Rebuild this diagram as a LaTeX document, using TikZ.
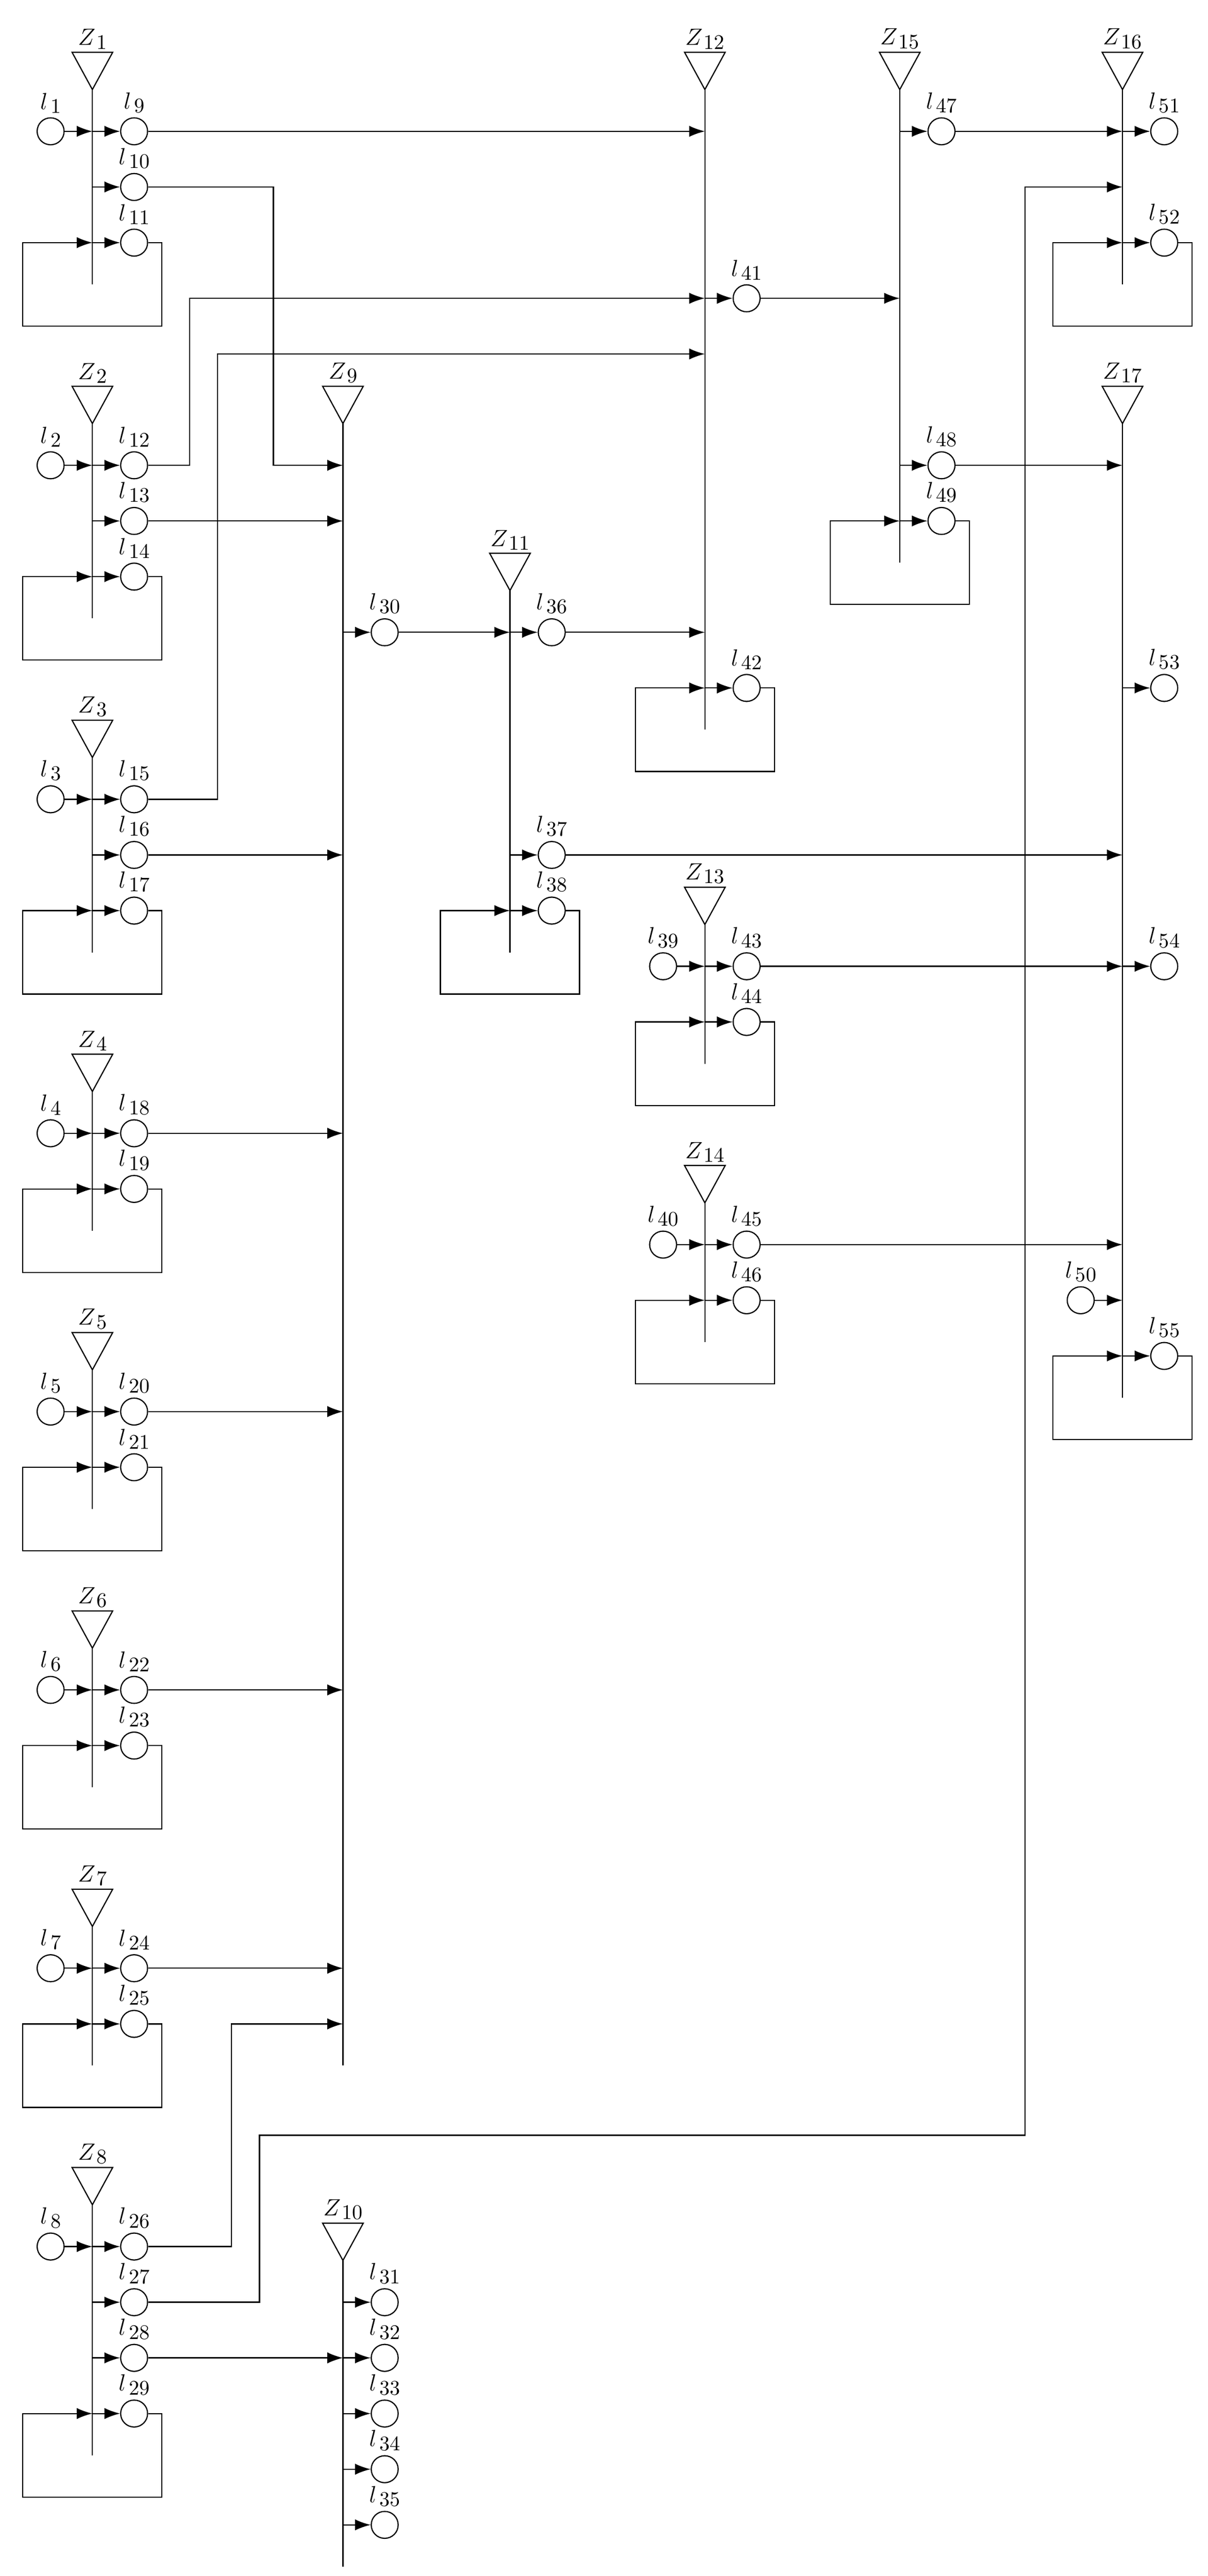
\documentclass[tikz,border=0pt]{standalone}
\usetikzlibrary{arrows.meta,calc}
\tikzset{
  lw/.style={line width=0.6pt},
  arr/.style={lw,-{Latex[length=2.8mm,width=2mm]}},
  circ/.style={circle,draw,lw,minimum size=0.484cm,inner sep=0pt},
  lbl/.style={inner sep=0pt,label distance=2pt},
  zl/.style={anchor=south,inner sep=1.5pt}
}
\newcommand\sub[1]{\raisebox{-1.9pt}{\fontsize{10.6}{12}\selectfont #1}}
\newcommand\zbus[4]{%
  \coordinate (Z#1t) at (#2,-#3);
  \draw[lw] ($(Z#1t)+(-0.365,0.67)$) -- ($(Z#1t)+(0.365,0.67)$) -- (Z#1t) -- cycle;
  \node[zl] (Z#1) at ($(Z#1t)+(0,0.67)$) {$Z$\kern0.5pt\sub{#1}};
  \draw[lw] (Z#1t) -- (#2,-#4);}
\newcommand\lc[3]{\node[circ,label={[lbl]above:$l$\kern1.5pt\sub{#1}}] (l#1) at (#2,-#3) {};}
\newcommand\tout[2]{\draw[arr] (Z#1t |- l#2) -- (l#2.west);}
\newcommand\tin[2]{\draw[arr] (l#2.east) -- (Z#1t |- l#2);}
\newcommand\lbox[2]{\draw[arr] (l#2.east) -| ($(Z#1t |- l#2)+(1.25,-1.5)$) -| ($(Z#1t |- l#2)+(-1.25,0)$) -- (Z#1t |- l#2);}
\begin{document}
\begin{tikzpicture}[font=\fontsize{12.2}{14}\selectfont]
\useasboundingbox (-1.659,2.359) rectangle (20.027,-43.919);
% buses
\zbus{1}{0}{-0.75}{2.75}
\zbus{2}{0}{5.25}{8.75}
\zbus{3}{0}{11.25}{14.75}
\zbus{4}{0}{17.25}{19.75}
\zbus{5}{0}{22.25}{24.75}
\zbus{6}{0}{27.25}{29.75}
\zbus{7}{0}{32.25}{34.75}
\zbus{8}{0}{37.25}{41.75}
\zbus{9}{4.5}{5.25}{34.75}
\zbus{10}{4.5}{38.25}{43.75}
\zbus{11}{7.5}{8.25}{14.75}
\zbus{12}{11}{-0.75}{10.75}
\zbus{13}{11}{14.25}{16.75}
\zbus{14}{11}{19.25}{21.75}
\zbus{15}{14.5}{-0.75}{7.75}
\zbus{16}{18.5}{-0.75}{2.75}
\zbus{17}{18.5}{5.25}{22.75}
% circles
\lc{1}{-0.75}{0}\lc{2}{-0.75}{6}\lc{3}{-0.75}{12}\lc{4}{-0.75}{18}
\lc{5}{-0.75}{23}\lc{6}{-0.75}{28}\lc{7}{-0.75}{33}\lc{8}{-0.75}{38}
\lc{9}{0.75}{0}\lc{10}{0.75}{1}\lc{11}{0.75}{2}
\lc{12}{0.75}{6}\lc{13}{0.75}{7}\lc{14}{0.75}{8}
\lc{15}{0.75}{12}\lc{16}{0.75}{13}\lc{17}{0.75}{14}
\lc{18}{0.75}{18}\lc{19}{0.75}{19}
\lc{20}{0.75}{23}\lc{21}{0.75}{24}
\lc{22}{0.75}{28}\lc{23}{0.75}{29}
\lc{24}{0.75}{33}\lc{25}{0.75}{34}
\lc{26}{0.75}{38}\lc{27}{0.75}{39}\lc{28}{0.75}{40}\lc{29}{0.75}{41}
\lc{30}{5.25}{9}
\lc{31}{5.25}{39}\lc{32}{5.25}{40}\lc{33}{5.25}{41}\lc{34}{5.25}{42}\lc{35}{5.25}{43}
\lc{36}{8.25}{9}\lc{37}{8.25}{13}\lc{38}{8.25}{14}
\lc{39}{10.25}{15}\lc{40}{10.25}{20}
\lc{41}{11.75}{3}\lc{42}{11.75}{10}\lc{43}{11.75}{15}\lc{44}{11.75}{16}
\lc{45}{11.75}{20}\lc{46}{11.75}{21}
\lc{47}{15.25}{0}\lc{48}{15.25}{6}\lc{49}{15.25}{7}
\lc{50}{17.75}{21}
\lc{51}{19.25}{0}\lc{52}{19.25}{2}\lc{53}{19.25}{10}\lc{54}{19.25}{15}\lc{55}{19.25}{22}
% taps out
\tout{1}{9}\tout{1}{10}\tout{1}{11}
\tout{2}{12}\tout{2}{13}\tout{2}{14}
\tout{3}{15}\tout{3}{16}\tout{3}{17}
\tout{4}{18}\tout{4}{19}
\tout{5}{20}\tout{5}{21}
\tout{6}{22}\tout{6}{23}
\tout{7}{24}\tout{7}{25}
\tout{8}{26}\tout{8}{27}\tout{8}{28}\tout{8}{29}
\tout{9}{30}
\tout{10}{31}\tout{10}{32}\tout{10}{33}\tout{10}{34}\tout{10}{35}
\tout{11}{36}\tout{11}{37}\tout{11}{38}
\tout{12}{41}\tout{12}{42}
\tout{13}{43}\tout{13}{44}
\tout{14}{45}\tout{14}{46}
\tout{15}{47}\tout{15}{48}\tout{15}{49}
\tout{16}{51}\tout{16}{52}
\tout{17}{53}\tout{17}{54}\tout{17}{55}
% taps in
\tin{1}{1}\tin{2}{2}\tin{3}{3}\tin{4}{4}\tin{5}{5}\tin{6}{6}\tin{7}{7}\tin{8}{8}
\tin{13}{39}\tin{14}{40}\tin{17}{50}
% loop boxes
\lbox{1}{11}\lbox{2}{14}\lbox{3}{17}\lbox{4}{19}\lbox{5}{21}\lbox{6}{23}
\lbox{7}{25}\lbox{8}{29}\lbox{11}{38}\lbox{12}{42}\lbox{13}{44}\lbox{14}{46}
\lbox{15}{49}\lbox{16}{52}\lbox{17}{55}
% external connections
\draw[arr] (l9.east) -- (Z12t |- l9);
\coordinate (b10) at (3.25,-1); \coordinate (c10) at (3.25,-6);
\draw[arr] (l10.east) -- (b10) -- (c10) -- (Z9t |- c10);
\coordinate (b12) at (1.75,-6); \coordinate (c12) at (1.75,-3);
\draw[arr] (l12.east) -- (b12) -- (c12) -- (Z12t |- c12);
\tin{9}{13}
\coordinate (b15) at (2.25,-12); \coordinate (c15) at (2.25,-4);
\draw[arr] (l15.east) -- (b15) -- (c15) -- (Z12t |- c15);
\tin{9}{16}\tin{9}{18}\tin{9}{20}\tin{9}{22}\tin{9}{24}
\coordinate (b26) at (2.5,-38); \coordinate (c26) at (2.5,-34);
\draw[arr] (l26.east) -- (b26) -- (c26) -- (Z9t |- c26);
\coordinate (b27) at (3,-39); \coordinate (c27) at (3,-36);
\coordinate (d27) at (16.75,-36); \coordinate (e27) at (16.75,-1);
\draw[arr] (l27.east) -- (b27) -- (c27) -- (d27) -- (e27) -- (Z16t |- e27);
\draw[arr] (l28.east) -- (Z10t |- l28);
\draw[arr] (l30.east) -- (Z11t |- l30);
\draw[arr] (l36.east) -- (Z12t |- l36);
\draw[arr] (l37.east) -- (Z17t |- l37);
\draw[arr] (l41.east) -- (Z15t |- l41);
\draw[arr] (l43.east) -- (Z17t |- l43);
\draw[arr] (l45.east) -- (Z17t |- l45);
\draw[arr] (l47.east) -- (Z16t |- l47);
\draw[arr] (l48.east) -- (Z17t |- l48);
\end{tikzpicture}
\end{document}
